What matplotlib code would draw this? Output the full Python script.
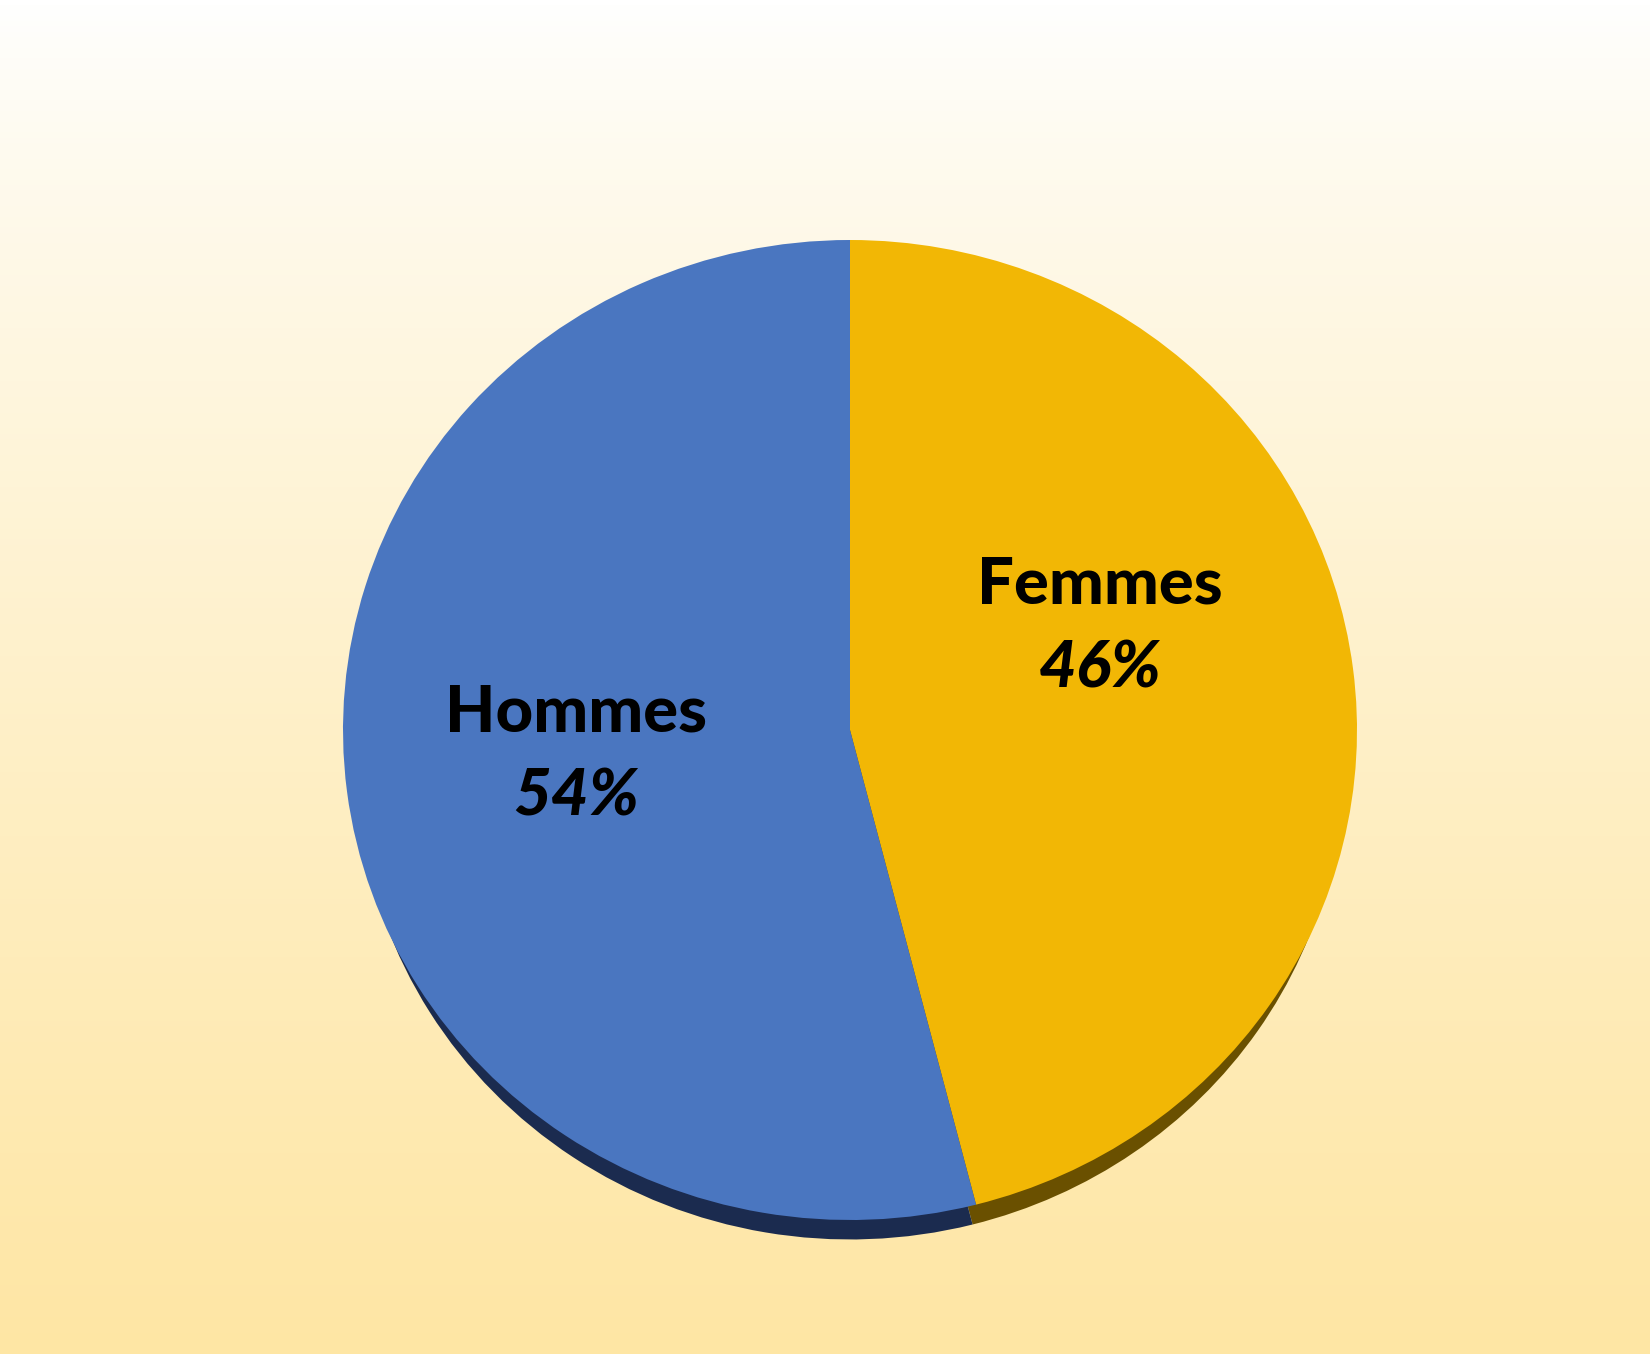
import numpy as np
import matplotlib.pyplot as plt

# data
categories = ['Femmes', 'Hommes']
shares = [46, 54]
colors = ['#F2B705', '#4A76C0']
shadow_colors = ['#6A5000', '#1B2B4F']

W, H = 1650, 1354
fig = plt.figure(figsize=(W / 100, H / 100), dpi=100)

# background gradient, white at top to pale yellow at bottom
bg = fig.add_axes([0, 0, 1, 1])
grad = np.linspace(0, 1, 256).reshape(-1, 1)
top = np.array([1.0, 1.0, 1.0])
bot = np.array([0xFE, 0xE6, 0xA4]) / 255
img = top + (bot - top) * grad[..., None] ** 0.8
bg.imshow(img, aspect='auto', extent=[0, 1, 0, 1])
bg.axis('off')

# pie axes in pixel units, y squashed a bit for the tilt
rx, ry = 507, 490
k = rx / ry
cx, cy = 850, 730
ax = fig.add_axes([0, 0, 1, 1])
ax.patch.set_visible(False)

center = (cx, (H - cy) * k)
# dark rim underneath (slightly narrower, pushed down so it only shows at the bottom)
ax.pie(shares, colors=shadow_colors, startangle=90, counterclock=False,
       radius=rx - 14, center=(center[0], center[1] - 33 * k),
       wedgeprops=dict(linewidth=0), frame=True)
ax.pie(shares, colors=colors, startangle=90, counterclock=False,
       radius=rx, center=center, wedgeprops=dict(linewidth=0), frame=True)
ax.set_aspect('auto')
ax.set_xlim(0, W)
ax.set_ylim(0, H * k)
ax.axis('off')

# labels
label_pos = {'Femmes': (1100, 585), 'Hommes': (576, 713)}
for cat, val in zip(categories, shares):
    x, y = label_pos[cat]
    fig.text(x / W, 1 - y / H, cat, ha='center', va='center',
             fontsize=47, fontweight='black', family='Lato', color='black')
    fig.text(x / W, 1 - (y + 83) / H, f'{val}%', ha='center', va='center',
             fontsize=47, fontweight='black', fontstyle='italic', family='Lato',
             color='black')

fig.savefig('out.png', dpi=100)
